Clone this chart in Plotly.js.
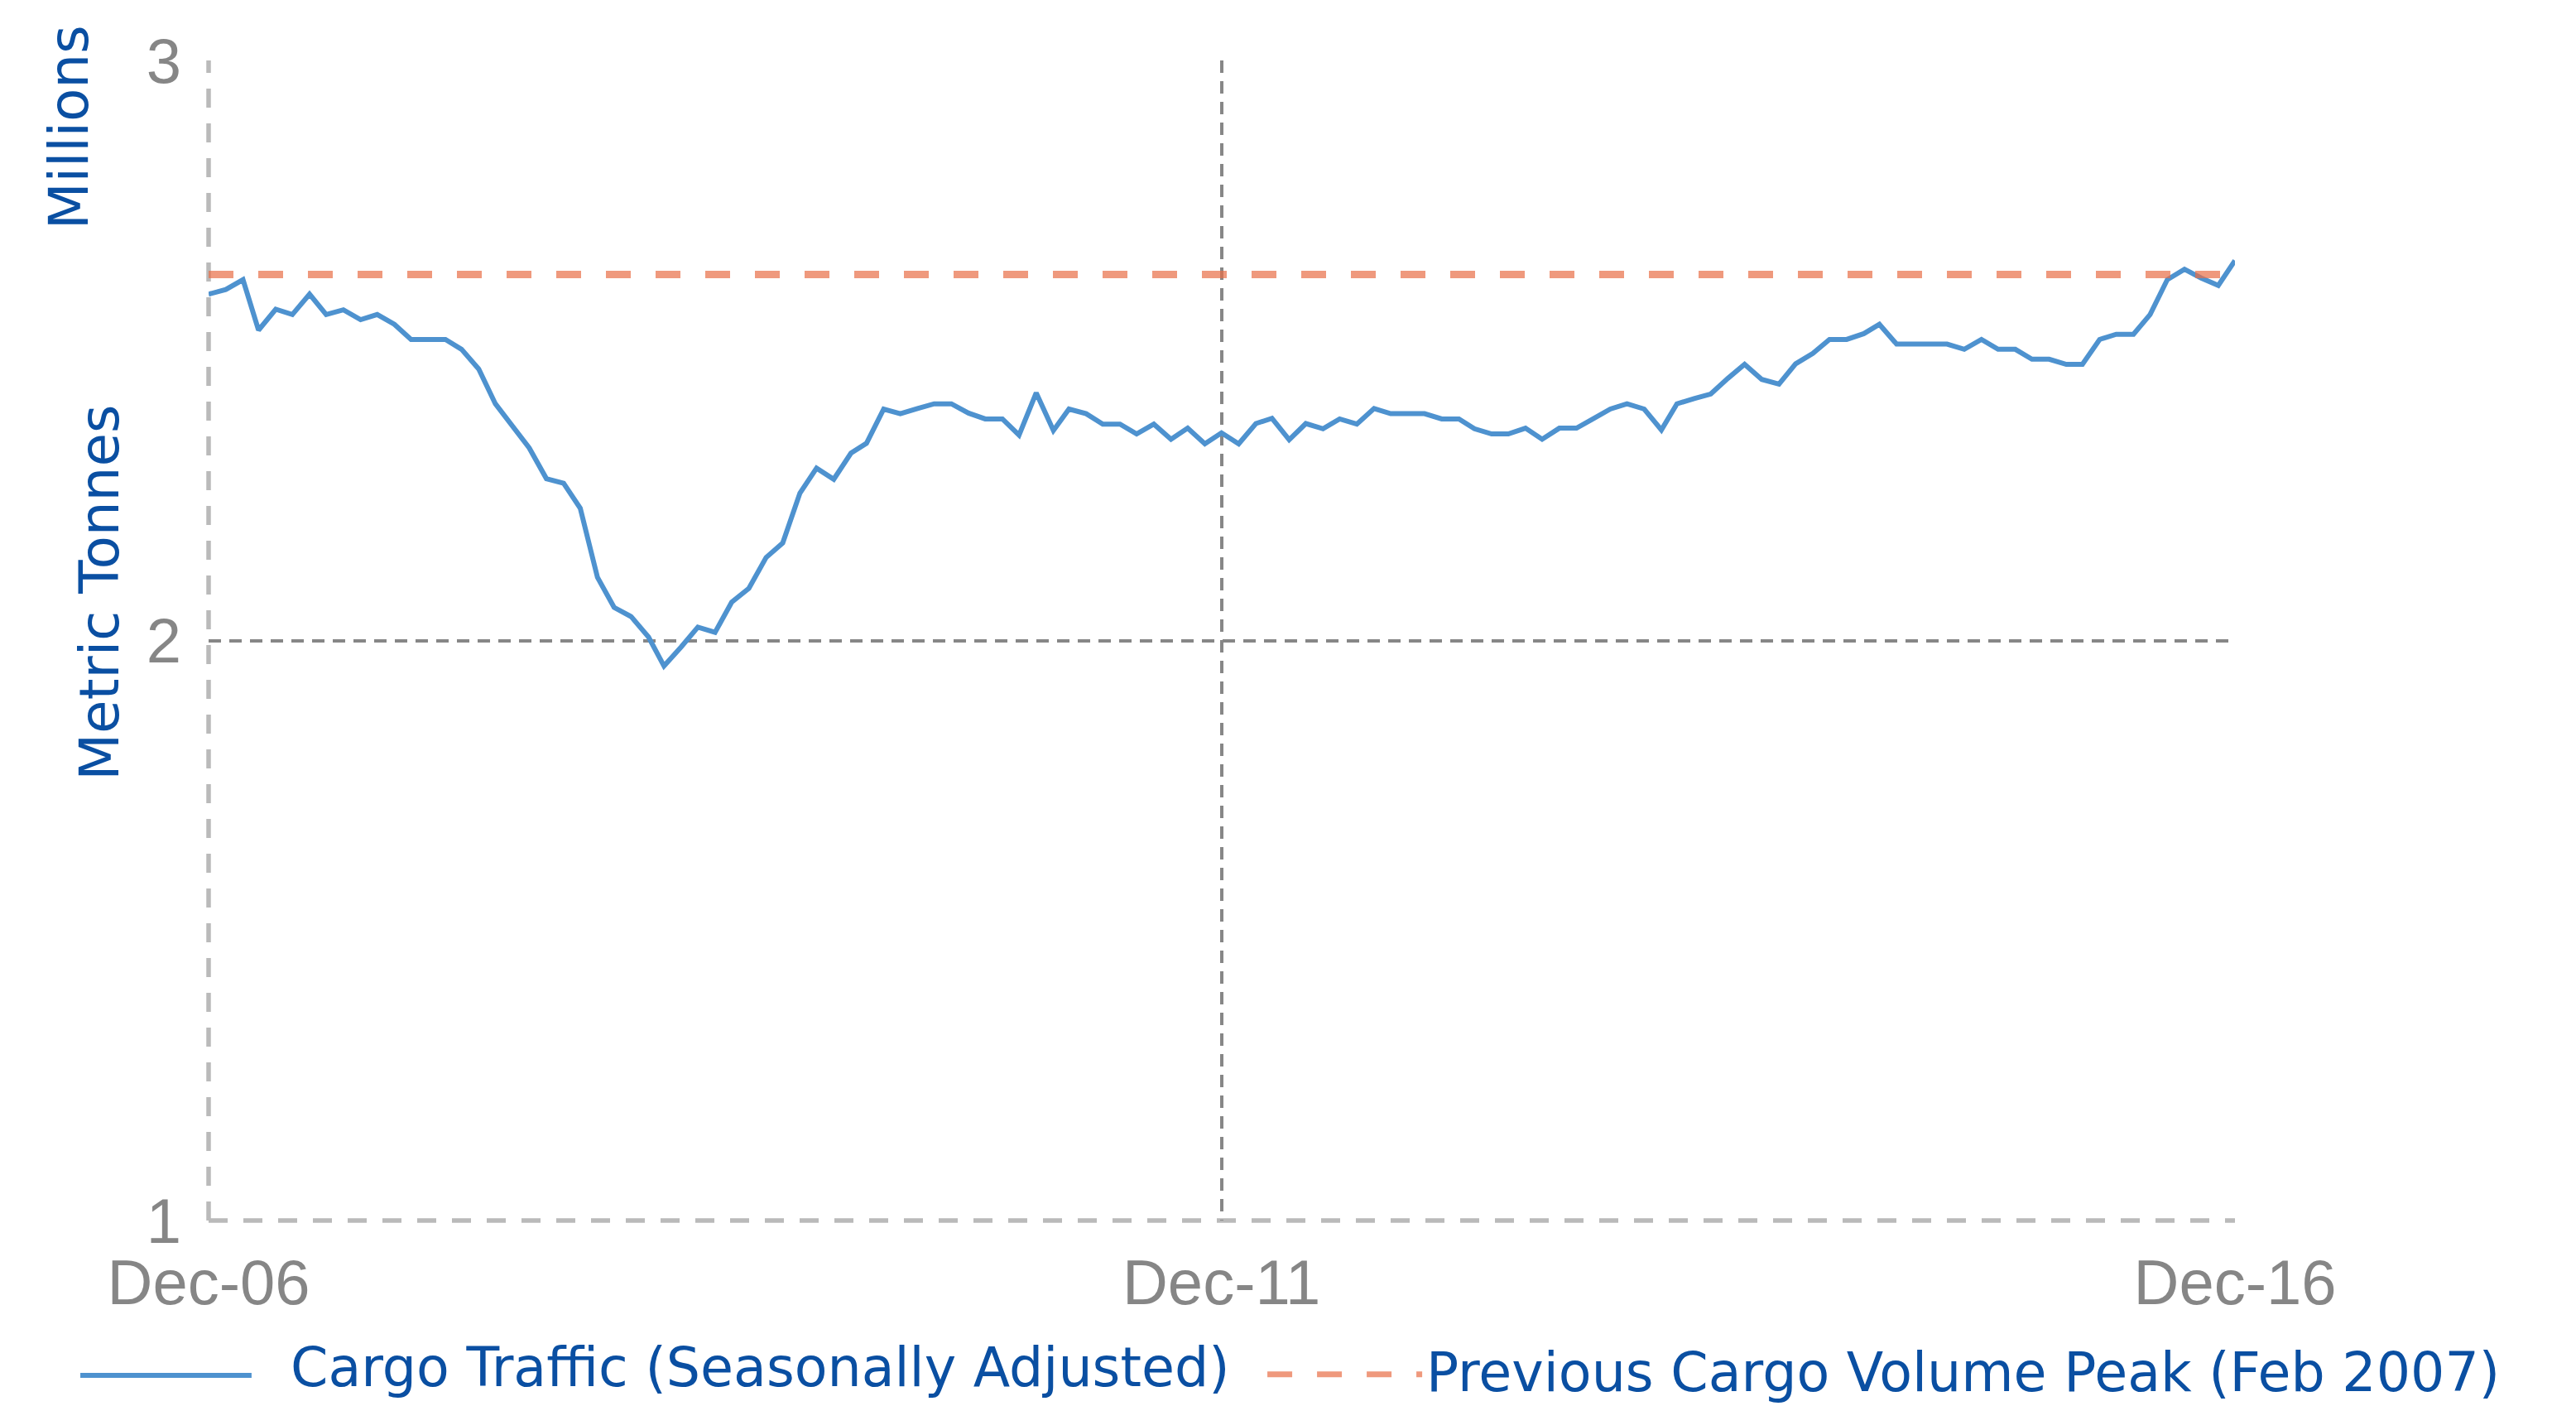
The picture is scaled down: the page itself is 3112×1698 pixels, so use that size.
<!DOCTYPE html>
<html>
<head>
<meta charset="utf-8">
<script src="https://cdn.plot.ly/plotly-3.0.1.min.js"></script>
<style>
  html, body { margin: 0; padding: 0; background: #ffffff; }
  #chart { width: 3112px; height: 1698px; }
</style>
</head>
<body>
<div id="chart"></div>
<script>
// ---- Data (monthly, Dec-2006 .. Dec-2016), millions of metric tonnes ----
const startYear = 2006;
const startMonth = 12;
const cargoTraffic = [
  2.597, 2.605, 2.622, 2.535, 2.571, 2.562, 2.597, 2.562, 2.570, 2.553,
  2.562, 2.545, 2.519, 2.519, 2.519, 2.502, 2.468, 2.408, 2.371, 2.332,
  2.279, 2.271, 2.228, 2.109, 2.057, 2.041, 2.006, 1.956, 1.989, 2.023,
  2.014, 2.066, 2.090, 2.143, 2.168, 2.254, 2.297, 2.278, 2.323, 2.340,
  2.399, 2.391, 2.400, 2.408, 2.408, 2.392, 2.382, 2.382, 2.354, 2.427,
  2.362, 2.399, 2.391, 2.373, 2.373, 2.356, 2.373, 2.347, 2.366, 2.339,
  2.358, 2.339, 2.374, 2.383, 2.346, 2.374, 2.365, 2.382, 2.373, 2.400,
  2.391, 2.391, 2.391, 2.382, 2.382, 2.365, 2.356, 2.356, 2.366, 2.347,
  2.366, 2.366, 2.382, 2.399, 2.408, 2.399, 2.363, 2.408, 2.417, 2.425,
  2.452, 2.476, 2.450, 2.442, 2.477, 2.495, 2.519, 2.519, 2.529, 2.545,
  2.511, 2.511, 2.511, 2.511, 2.502, 2.519, 2.502, 2.502, 2.485, 2.485,
  2.476, 2.476, 2.519, 2.528, 2.528, 2.562, 2.622, 2.640, 2.625, 2.612,
  2.655
];
const previousPeak = 2.631;   // Feb 2007 peak level
const tickDates = ['2006-12-01', '2011-12-01', '2016-12-01'];
const tickLabels = ['Dec-06', 'Dec-11', 'Dec-16'];
const yTicks = [1, 2, 3];
const seriesNames = ['Cargo Traffic (Seasonally Adjusted)', 'Previous Cargo Volume Peak (Feb 2007)'];
const yTitleMain = 'Metric Tonnes';
const yTitleUnit = 'Millions';

// month dates
const dates = cargoTraffic.map(function (_, i) {
  const m0 = (startMonth - 1) + i;
  const y = startYear + Math.floor(m0 / 12);
  const m = (m0 % 12) + 1;
  return y + '-' + (m < 10 ? '0' + m : m) + '-01';
});
const peakLine = dates.map(function () { return previousPeak; });

// ---- Styles ----
const BLUE_LINE = '#4e92cf';
const ORANGE = 'rgba(232,110,70,0.7)';
const TEXT_BLUE = '#0a4fa2';
const TICK_GRAY = '#868686';
const GRID_GRAY = '#878787';
const AXIS_GRAY = '#bababa';
const LABEL_FONT = 'DejaVu Sans, sans-serif';
const TICK_FONT = 'Liberation Sans, Arial, sans-serif';

const traces = [
  {
    type: 'scatter', mode: 'lines', name: seriesNames[0],
    x: dates, y: cargoTraffic,
    line: { color: BLUE_LINE, width: 6 },
    showlegend: false, hoverinfo: 'x+y'
  },
  {
    type: 'scatter', mode: 'lines', name: seriesNames[1],
    x: dates, y: peakLine,
    line: { color: ORANGE, width: 9, dash: '30px,30px' },
    showlegend: false, hoverinfo: 'y'
  }
];

const layout = {
  width: 3112, height: 1698,
  paper_bgcolor: '#ffffff', plot_bgcolor: '#ffffff',
  margin: { l: 252, r: 412, t: 73, b: 224, pad: 0 },
  showlegend: false,
  xaxis: {
    type: 'date',
    range: [tickDates[0], tickDates[2]],
    tickmode: 'array', tickvals: tickDates, ticktext: tickLabels,
    showgrid: true, gridcolor: GRID_GRAY, gridwidth: 4, griddash: '15px,10px',
    zeroline: false, showline: false, ticks: '',
    ticklabelstandoff: 24,
    tickfont: { family: TICK_FONT, size: 76, color: TICK_GRAY }
  },
  yaxis: {
    range: [1, 3],
    tickmode: 'array', tickvals: yTicks, ticktext: yTicks.map(String),
    showgrid: true, gridcolor: GRID_GRAY, gridwidth: 4, griddash: '15px,10px',
    zeroline: false, showline: false, ticks: '',
    ticklabelstandoff: 32,
    tickfont: { family: TICK_FONT, size: 76, color: TICK_GRAY }
  },
  shapes: [
    // left axis line (dashed, light gray)
    { type: 'line', xref: 'paper', yref: 'paper', x0: 0, x1: 0, y0: 0, y1: 1,
      layer: 'between', line: { color: AXIS_GRAY, width: 5.5, dash: '23px,19px' } },
    // bottom axis line
    { type: 'line', xref: 'paper', yref: 'paper', x0: 0, x1: 1, y0: 0, y1: 0,
      layer: 'between', line: { color: AXIS_GRAY, width: 5.5, dash: '23px,19px' } },
    // legend samples
    { type: 'line', xref: 'paper', yref: 'paper', x0: -0.0633, x1: 0.0212, y0: -0.1334, y1: -0.1334,
      line: { color: BLUE_LINE, width: 6 } },
    { type: 'line', xref: 'paper', yref: 'paper', x0: 0.5225, x1: 0.5989, y0: -0.1326, y1: -0.1326,
      line: { color: ORANGE, width: 7, dash: '30px,30px' } }
  ],
  annotations: [
    { xref: 'paper', yref: 'paper', x: -0.069, y: 0.942, text: yTitleUnit, textangle: -90,
      showarrow: false, xanchor: 'center', yanchor: 'middle',
      font: { family: LABEL_FONT, size: 66, color: TEXT_BLUE } },
    { xref: 'paper', yref: 'paper', x: -0.054, y: 0.541, text: yTitleMain, textangle: -90,
      showarrow: false, xanchor: 'center', yanchor: 'middle',
      font: { family: LABEL_FONT, size: 66, color: TEXT_BLUE } },
    { xref: 'paper', yref: 'paper', x: 0.0396, y: -0.127, text: seriesNames[0],
      showarrow: false, xanchor: 'left', yanchor: 'middle',
      font: { family: LABEL_FONT, size: 65, color: TEXT_BLUE } },
    { xref: 'paper', yref: 'paper', x: 0.600, y: -0.131, text: seriesNames[1],
      showarrow: false, xanchor: 'left', yanchor: 'middle',
      font: { family: LABEL_FONT, size: 65, color: TEXT_BLUE } }
  ]
};

Plotly.newPlot('chart', traces, layout, { staticPlot: true, displayModeBar: false });
</script>
</body>
</html>
